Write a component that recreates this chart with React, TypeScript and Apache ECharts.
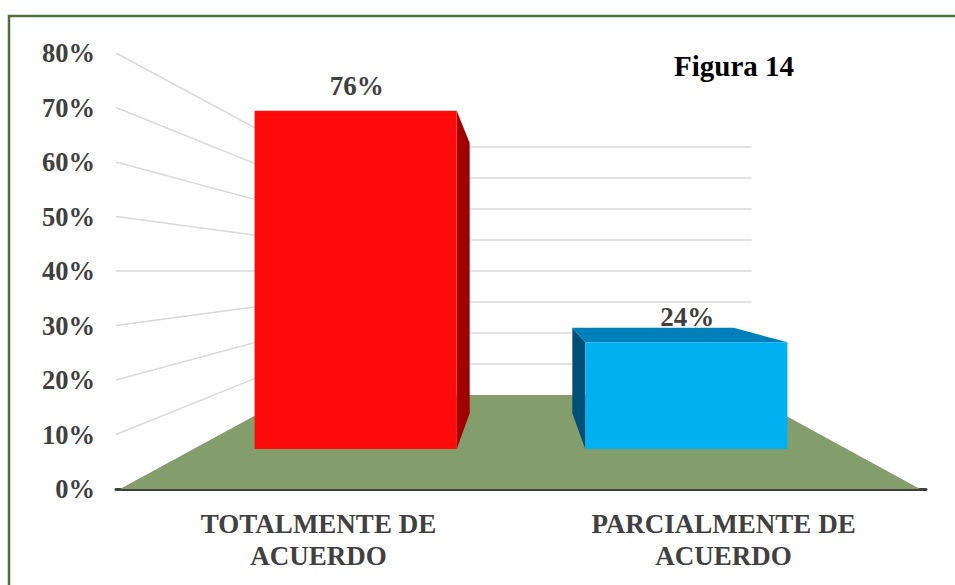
import React, { useEffect, useRef } from "react";
import * as echarts from "echarts";

const categories = ["TOTALMENTE DE\nACUERDO", "PARCIALMENTE DE\nACUERDO"];
const shares = [76, 24];
const yTicks = [0, 10, 20, 30, 40, 50, 60, 70, 80];
const frontColors = ["#ff0a0a", "#00b0f0"];
const sideColors = ["#a00000", "#004f78"];
const topColors = ["#c00000", "#0080b8"];

const SERIF = '"Liberation Serif", "Times New Roman", serif';
const INK = "#404040";
const VANISH_Y = 271;
const BACK_WALL = 0.569;
const BAR_FRONT = 0.8165;
const BAR_BACK = 0.652;
const BAR_WIDTH = 0.489;

export default function App() {
  const ref = useRef<HTMLDivElement>(null);
  useEffect(() => {
    const chart = echarts.init(ref.current!, undefined, { renderer: "svg" });

    const project = (pt: number[], s: number, vx: number) => [
      vx + (pt[0] - vx) * s,
      VANISH_Y + (pt[1] - VANISH_Y) * s,
    ];

    const renderWall = (params: any, api: any) => {
      const cs = params.coordSys;
      const vx = cs.x + cs.width / 2;
      const y = api.coord([0, api.value(1)])[1];
      const left = [cs.x, y];
      const right = [cs.x + cs.width, y];
      const a = project(left, BACK_WALL, vx);
      const b = project(right, BACK_WALL, vx);
      return {
        type: "polyline",
        shape: { points: [left, a, b] },
        style: { stroke: "#d9d9d9", lineWidth: 1.5, fill: "none" },
      };
    };

    const renderFloor = (params: any, api: any) => {
      const cs = params.coordSys;
      const vx = cs.x + cs.width / 2;
      const y = api.coord([0, 0])[1];
      const left = [cs.x + 4, y];
      const right = [cs.x + cs.width - 6, y];
      return {
        type: "polygon",
        shape: {
          points: [left, project(left, BACK_WALL, vx), project(right, BACK_WALL, vx), right],
        },
        style: { fill: "#839d6c" },
      };
    };

    const renderBar = (params: any, api: any) => {
      const cs = params.coordSys;
      const vx = cs.x + cs.width / 2;
      const i = api.value(0);
      const band = api.size([1, 0])[0];
      const cx = api.coord([i, 0])[0];
      const y0 = api.coord([i, 0])[1];
      const y1 = api.coord([i, api.value(1)])[1];
      const half = (band * BAR_WIDTH) / 2 / 0.8;
      const corner = (x: number, y: number, s: number) => project([x, y], s, vx);

      const fl = corner(cx - half, y1, BAR_FRONT);
      const fr = corner(cx + half, y1, BAR_FRONT);
      const flb = corner(cx - half, y0, BAR_FRONT);
      const frb = corner(cx + half, y0, BAR_FRONT);
      const bl = corner(cx - half, y1, BAR_BACK);
      const br = corner(cx + half, y1, BAR_BACK);
      const blb = corner(cx - half, y0, BAR_BACK);
      const brb = corner(cx + half, y0, BAR_BACK);

      const side = cx < vx ? [fr, br, brb, frb] : [fl, bl, blb, flb];
      const children: any[] = [];
      children.push({
        type: "polygon",
        shape: { points: side },
        style: { fill: sideColors[i] },
      });
      if (fl[1] > VANISH_Y) {
        children.push({
          type: "polygon",
          shape: { points: [fl, bl, br, fr] },
          style: { fill: topColors[i] },
        });
      }
      children.push({
        type: "polygon",
        shape: { points: [fl, fr, frb, flb] },
        style: { fill: frontColors[i] },
      });
      children.push({
        type: "text",
        x: (fl[0] + fr[0]) / 2 + 1,
        y: Math.min(fl[1], bl[1]) - (fl[1] > VANISH_Y ? 11 : 25),
        style: {
          text: api.value(1) + "%",
          fill: INK,
          font: `bold 27px ${SERIF}`,
          textAlign: "center",
          textVerticalAlign: "middle",
        },
      });
      return { type: "group", children };
    };

    chart.setOption({
      animation: false,
      backgroundColor: "#ffffff",
      grid: { left: 116, right: 29, top: 53, bottom: 96, containLabel: false },
      graphic: [
        {
          type: "rect",
          z: -10,
          shape: { x: 9, y: 16, width: 1000, height: 620 },
          style: { fill: "none", stroke: "#4f6f3a", lineWidth: 2.5 },
        },
        {
          type: "text",
          x: 734,
          y: 66,
          style: {
            text: "Figura 14",
            fill: "#000000",
            font: `bold 29px ${SERIF}`,
            textAlign: "center",
            textVerticalAlign: "middle",
          },
        },
      ],
      xAxis: {
        type: "category",
        data: categories,
        axisTick: { show: false },
        axisLine: { show: true, lineStyle: { color: INK, width: 3 } },
        axisLabel: {
          interval: 0,
          margin: 19,
          color: INK,
          fontFamily: SERIF,
          fontWeight: "bold",
          fontSize: 27,
          lineHeight: 32,
        },
      },
      yAxis: {
        type: "value",
        min: yTicks[0],
        max: yTicks[yTicks.length - 1],
        interval: yTicks[1] - yTicks[0],
        axisLine: { show: false },
        axisTick: { show: false },
        splitLine: { show: false },
        axisLabel: {
          margin: 21,
          color: INK,
          fontFamily: SERIF,
          fontWeight: "bold",
          fontSize: 26.5,
          formatter: "{value}%",
        },
      },
      series: [
        {
          type: "custom",
          z: 1,
          silent: true,
          clip: false,
          renderItem: renderWall,
          data: yTicks.slice(1).map((t) => [0, t]),
        },
        {
          type: "custom",
          z: 2,
          silent: true,
          clip: false,
          renderItem: renderFloor,
          data: [[0, 0]],
        },
        {
          type: "custom",
          z: 3,
          silent: true,
          clip: false,
          renderItem: renderBar,
          data: shares.map((v, i) => [i, v]),
        },
      ],
    });
    return () => chart.dispose();
  }, []);

  return (
    <div
      ref={ref}
      style={{ position: "fixed", left: 0, top: 0, width: 955, height: 585, background: "#fff" }}
    />
  );
}
